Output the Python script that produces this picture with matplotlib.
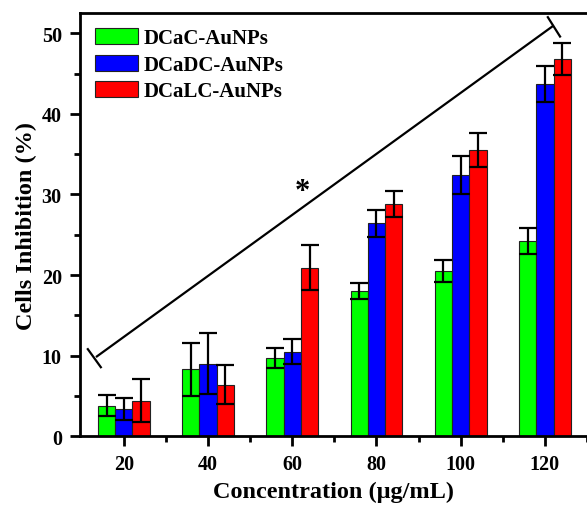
import matplotlib
matplotlib.use("Agg")
import matplotlib.pyplot as plt
import numpy as np
from matplotlib.ticker import MultipleLocator

plt.rcParams['font.family'] = ['Liberation Serif', 'DejaVu Serif']
plt.rcParams['font.weight'] = 'bold'

concentrations = [20, 40, 60, 80, 100, 120]
series_names = ["DCaC-AuNPs", "DCaDC-AuNPs", "DCaLC-AuNPs"]
dcac = [3.8, 8.3, 9.7, 18.0, 20.5, 24.2]
dcac_err = [1.3, 3.3, 1.25, 1.0, 1.4, 1.65]
dcadc = [3.4, 9.0, 10.5, 26.4, 32.4, 43.7]
dcadc_err = [1.4, 3.8, 1.5, 1.65, 2.4, 2.25]
dcalc = [4.4, 6.4, 20.9, 28.8, 35.5, 46.8]
dcalc_err = [2.7, 2.4, 2.8, 1.65, 2.1, 2.0]
colors = ["#00ff00", "#0000ff", "#ff0000"]

# significance bracket (data coords)
bracket_x = [13.6, 121.9]
bracket_y = [9.9, 50.9]
cap_start_x = [11.45, 14.54]
cap_start_y = [10.8, 8.56]
cap_end_x = [120.7, 123.6]
cap_end_y = [52.0, 49.6]
star_pos = (62.3, 30.4)

fig = plt.figure(figsize=(5.87, 5.06), dpi=100)
ax = fig.add_axes([0.136, 0.136, 0.864, 0.836])

width = 4.1
x = np.array(concentrations, dtype=float)
for i, (vals, errs) in enumerate([(dcac, dcac_err), (dcadc, dcadc_err), (dcalc, dcalc_err)]):
    ax.bar(x + (i - 1) * width, vals, width=width, color=colors[i], edgecolor='#222222',
           linewidth=0.8, label=series_names[i], zorder=2)
    ax.errorbar(x + (i - 1) * width, vals, yerr=errs, fmt='none', ecolor='black',
                elinewidth=1.6, capsize=6.5, capthick=1.6, zorder=3)

ax.plot(bracket_x, bracket_y, color='black', lw=1.6)
ax.plot(cap_start_x, cap_start_y, color='black', lw=1.6)
ax.plot(cap_end_x, cap_end_y, color='black', lw=1.6)
ax.text(star_pos[0], star_pos[1], '*', fontsize=22, ha='center', va='center')

ax.set_xlim(9.55, 130)
ax.set_ylim(0, 52.5)
ax.set_xticks(concentrations)
ax.set_xticks([30, 50, 70, 90, 110, 130], minor=True)
ax.yaxis.set_major_locator(MultipleLocator(10))
ax.yaxis.set_minor_locator(MultipleLocator(5))
ax.tick_params(axis='both', which='major', direction='out', length=7, width=2,
               labelsize=14.5, pad=6)
ax.tick_params(axis='both', which='minor', direction='out', length=4, width=2)
ax.tick_params(top=False, right=False)
for lab in ax.get_xticklabels() + ax.get_yticklabels():
    lab.set_fontweight('bold')
for s in ['left', 'bottom', 'top']:
    ax.spines[s].set_linewidth(2)
ax.spines['right'].set_visible(False)

ax.set_xlabel('Concentration (μg/mL)', fontsize=17.5, fontweight='bold', labelpad=5)
ax.set_ylabel('Cells Inhibition (%)', fontsize=17.5, fontweight='bold', labelpad=3)

leg = ax.legend(loc='upper left', frameon=False, fontsize=15, handlelength=2.07,
                handleheight=0.82, handletextpad=0.25, labelspacing=0.3,
                bbox_to_anchor=(0.03, 0.965), borderaxespad=0, borderpad=0)
for t in leg.get_texts():
    t.set_fontweight('bold')

fig.savefig('out.png', dpi=100)
